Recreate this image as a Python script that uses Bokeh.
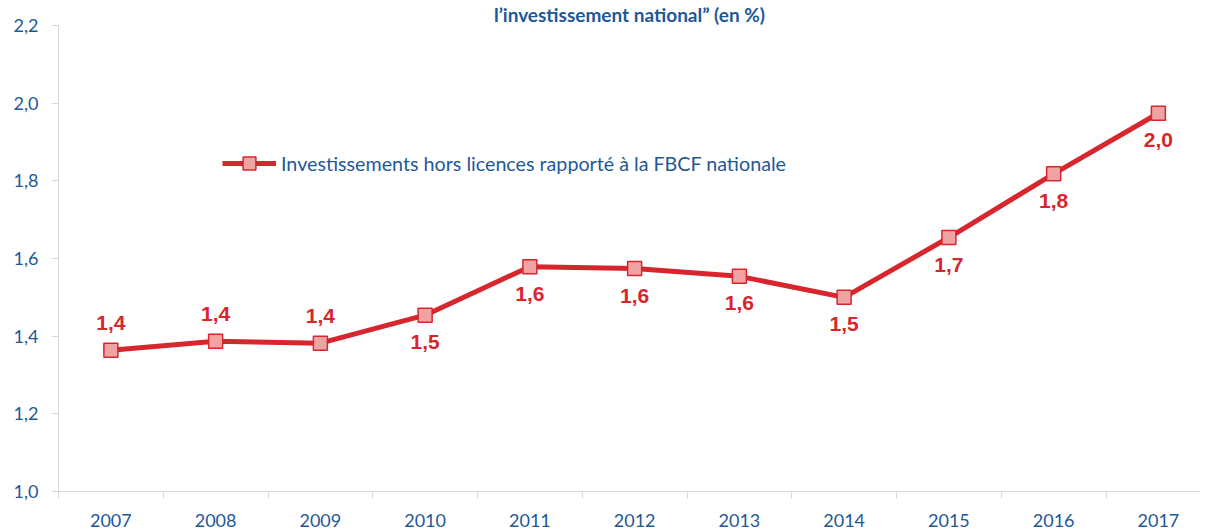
from bokeh.plotting import figure
from bokeh.models import (Range1d, FixedTicker, CustomJSTickFormatter, Legend, LegendItem,
                          ColumnDataSource, CDSView, IndexFilter)
from bokeh.embed import file_html
from bokeh.resources import INLINE
from bokeh.core.properties import value

# ---- data ----
years = ["2007", "2008", "2009", "2010", "2011", "2012", "2013", "2014", "2015", "2016", "2017"]
ratio = [1.364, 1.387, 1.382, 1.454, 1.579, 1.574, 1.554, 1.500, 1.654, 1.818, 1.974]
y_ticks = [1.0, 1.2, 1.4, 1.6, 1.8, 2.0, 2.2]
series_name = "Investissements hors licences rapporté à la FBCF nationale"
title_text = "l\u2019investissement national\u201d (en %)"

BLUE = "#1F5897"
RED = "#D7262D"
PINK = "#F0A3A3"
GREY = "#D9D9D9"

xs = list(range(len(years)))
labels = [f"{v:.1f}".replace(".", ",") for v in ratio]
src = ColumnDataSource(dict(x=xs, y=ratio, lab=labels))

p = figure(width=1200, height=529, output_backend="svg", toolbar_location=None,
           x_range=Range1d(-0.5, 10.402), y_range=Range1d(1.0, 2.2),
           min_border_left=58, min_border_right=0, min_border_top=24, min_border_bottom=38)
p.outline_line_color = None
p.xgrid.visible = False
p.ygrid.visible = False
p.background_fill_color = "white"
p.border_fill_color = "white"

p.title.text = title_text
p.title.text_font = "Lato"
p.title.text_font_size = "19px"
p.title.text_font_style = "bold"
p.title.text_color = BLUE
p.title.align = "center"
p.title.offset = 23
p.title.standoff = 0

# y axis
ya = p.yaxis[0]
ya.ticker = FixedTicker(ticks=y_ticks, minor_ticks=[])
ya.formatter = CustomJSTickFormatter(code="return tick.toFixed(1).replace('.', ',');")
ya.axis_line_color = GREY
ya.major_tick_line_color = GREY
ya.major_tick_out = 7
ya.major_tick_in = 0
ya.minor_tick_line_color = None
ya.major_label_text_font = "Lato"
ya.major_label_text_font_size = "18px"
ya.major_label_text_color = BLUE
ya.major_label_standoff = 13

# x axis
xa = p.xaxis[0]
xa.ticker = FixedTicker(ticks=xs, minor_ticks=[i - 0.5 for i in range(len(years) + 1)])
xa.major_label_overrides = {i: y for i, y in enumerate(years)}
xa.axis_line_color = GREY
xa.major_tick_line_color = None
xa.major_tick_out = 0
xa.major_tick_in = 0
xa.minor_tick_line_color = GREY
xa.minor_tick_out = 7
xa.minor_tick_in = 0
xa.major_label_text_font = "Lato"
xa.major_label_text_font_size = "18px"
xa.major_label_text_color = BLUE
xa.major_label_standoff = 15

line = p.line("x", "y", source=src, line_color=RED, line_width=5)
pts = p.scatter("x", "y", source=src, marker="square", size=14,
                fill_color=PINK, line_color=RED, line_width=1.5)

n_above = 3
v_above = CDSView(filter=IndexFilter(list(range(n_above))))
v_below = CDSView(filter=IndexFilter(list(range(n_above, len(years)))))
common = dict(text="lab", text_font=value("Liberation Sans"), text_font_style="bold",
              text_font_size="21px", text_color=RED, text_align="center",
              text_baseline="middle")
p.text("x", "y", source=src, view=v_above, y_offset=-27, **common)
p.text("x", "y", source=src, view=v_below, y_offset=27, **common)

legend = Legend(items=[LegendItem(label=series_name, renderers=[line, pts])],
                location=(164, 312), padding=0, margin=0, border_line_color=None,
                background_fill_alpha=0, glyph_width=54, glyph_height=32,
                label_standoff=5, label_text_font="Lato", label_text_font_size="19.7px",
                label_text_color=BLUE)
p.add_layout(legend)

open("out.html", "w").write(file_html(p, INLINE))
